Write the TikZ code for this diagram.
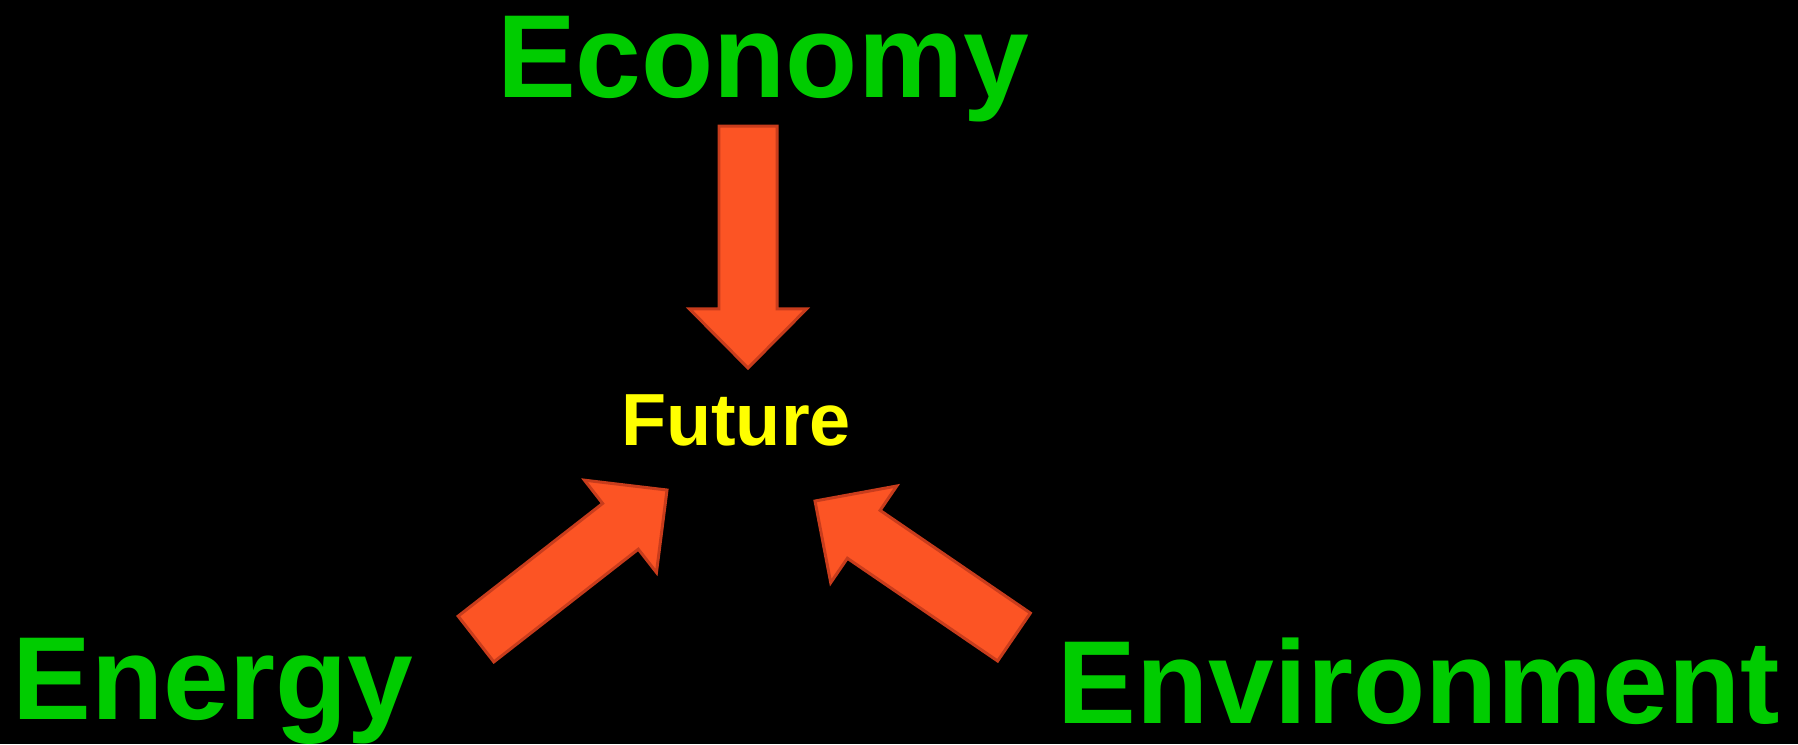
\documentclass[tikz,border=0pt]{standalone}
\usepackage{fontspec}
\setmainfont{Liberation Sans}
\usetikzlibrary{calc}
\definecolor{text_green}{RGB}{0,204,0}
\definecolor{text_yellow}{RGB}{255,255,0}
\definecolor{arrow_orange}{RGB}{252,84,36}
\definecolor{arrow_edge}{RGB}{200,60,28}

% fat block arrow from tail #1 to tip #2
\newcommand{\blockarrow}[2]{
  \path ($(#2)!0.59cm!(#1)$) coordinate (neck);
  \filldraw[bigarrow]
    ($(#1)!0.29cm!90:(#2)$) -- ($(neck)!0.29cm!90:(#2)$) -- ($(neck)!0.585cm!90:(#2)$) -- (#2)
    -- ($(neck)!0.585cm!-90:(#2)$) -- ($(neck)!0.29cm!-90:(#2)$) -- ($(#1)!0.29cm!-90:(#2)$) -- cycle;
}

\begin{document}
\begin{tikzpicture}[x=0.01cm,y=-0.01cm]
    \tikzstyle{word}=[text=text_green, inner sep=0, anchor=base, font=\fontsize{33.6}{40}\selectfont\bfseries]
    \tikzstyle{bigarrow}=[fill=arrow_orange, draw=arrow_edge, line width=0.85pt, line join=miter]

    \fill[black] (0,0) rectangle (1798,744);

    \node[word]                (economy)     at (763,97)   {Economy};
    \node[word]                (energy)      at (213,719)  {Energy};
    \node[word]                (environment) at (1419,723) {Environment};
    \node[word,text=text_yellow,
          font=\fontsize{21}{25}\selectfont\bfseries] (future) at (736,445) {Future};

    \coordinate (econ_tail) at (748,126);
    \coordinate (econ_tip)  at (748,368);
    \coordinate (ener_tail) at (476,639);
    \coordinate (ener_tip)  at (667,490);
    \coordinate (envi_tail) at (1014,637);
    \coordinate (envi_tip)  at (815,501);

    \blockarrow{econ_tail}{econ_tip}
    \blockarrow{ener_tail}{ener_tip}
    \blockarrow{envi_tail}{envi_tip}
\end{tikzpicture}
\end{document}
